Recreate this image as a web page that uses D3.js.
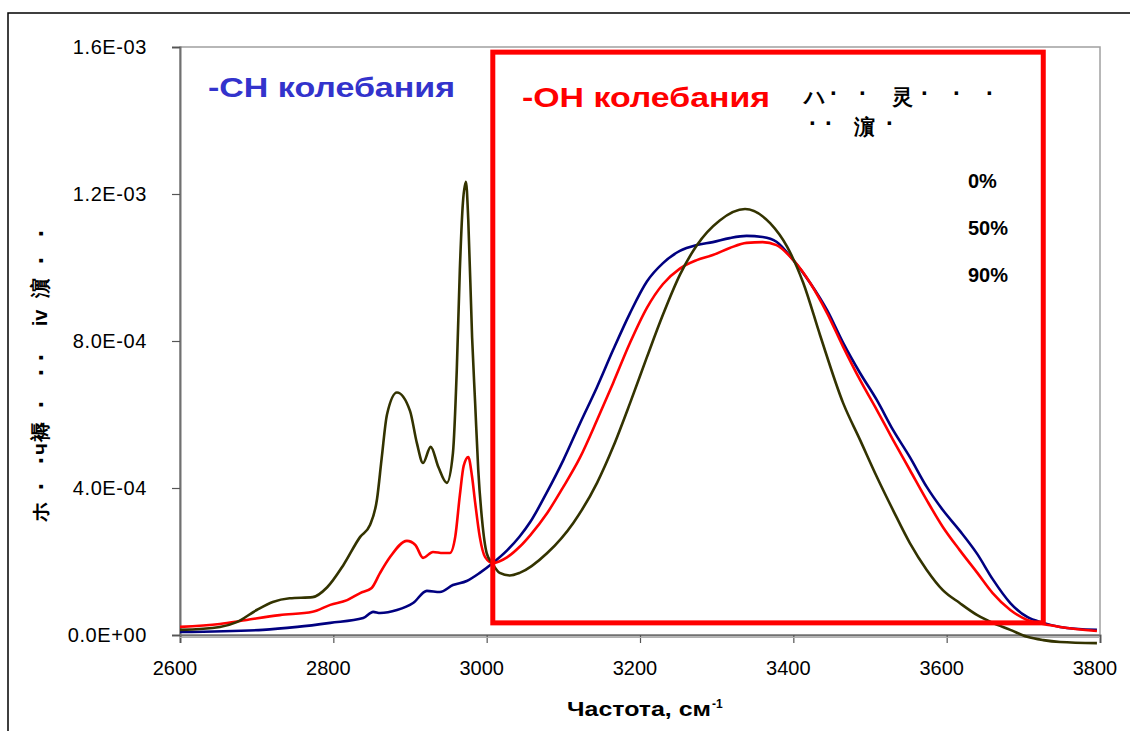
<!DOCTYPE html>
<html>
<head>
<meta charset="utf-8">
<script src="https://cdn.jsdelivr.net/npm/d3@7"></script>
<style>
  body { margin: 0; background: #fff; }
  svg { display: block; font-family: Arial, "Liberation Sans", sans-serif; }
</style>
</head>
<body>
<div id="chart"></div>
<script>
// ---- data (absorbance vs wavenumber) ----
var seriesNames = ["0%", "50%", "90%"];
var seriesColors = ["#000080", "#ff0000", "#333300"];

var wn0 = [2600, 2708, 2753, 2796, 2839, 2852, 2861, 2883, 2904, 2922, 2939, 2956, 2974, 2991, 3008, 3027, 3043, 3057, 3079, 3100, 3122, 3144, 3165, 3187, 3209, 3230, 3252, 3274, 3295, 3317, 3339, 3360, 3378, 3400, 3422, 3444, 3465, 3487, 3509, 3530, 3552, 3574, 3595, 3617, 3640, 3660, 3683, 3705, 3726, 3748, 3796];
var abs0 = [0.08, 0.14, 0.22, 0.33, 0.46, 0.63, 0.60, 0.68, 0.87, 1.20, 1.17, 1.36, 1.47, 1.69, 1.96, 2.31, 2.68, 3.08, 3.90, 4.76, 5.77, 6.75, 7.76, 8.76, 9.62, 10.12, 10.45, 10.61, 10.69, 10.80, 10.86, 10.83, 10.70, 10.20, 9.58, 8.84, 7.95, 7.13, 6.39, 5.58, 4.84, 4.03, 3.40, 2.84, 2.20, 1.52, 0.87, 0.49, 0.33, 0.22, 0.14];

var wn50 = [2600, 2652, 2687, 2730, 2773, 2796, 2818, 2835, 2850, 2861, 2874, 2896, 2907, 2917, 2930, 2943, 2952, 2959, 2965, 2970, 2976, 2981, 2985, 2991, 2998, 3008, 3027, 3043, 3057, 3079, 3100, 3122, 3144, 3165, 3187, 3209, 3230, 3252, 3274, 3295, 3317, 3339, 3360, 3378, 3400, 3422, 3444, 3465, 3487, 3509, 3530, 3552, 3574, 3595, 3617, 3640, 3660, 3683, 3705, 3726, 3748, 3796];
var abs50 = [0.22, 0.30, 0.41, 0.54, 0.63, 0.82, 0.95, 1.14, 1.28, 1.69, 2.12, 2.56, 2.45, 2.10, 2.26, 2.23, 2.23, 2.67, 3.80, 4.60, 4.84, 4.30, 3.60, 2.67, 2.12, 1.96, 2.12, 2.40, 2.72, 3.32, 4.03, 4.84, 5.85, 6.86, 7.95, 8.90, 9.55, 9.97, 10.20, 10.34, 10.53, 10.67, 10.69, 10.61, 10.20, 9.58, 8.76, 7.84, 6.94, 6.12, 5.31, 4.49, 3.67, 2.94, 2.31, 1.69, 1.14, 0.68, 0.41, 0.30, 0.22, 0.11];

var wn90 = [2600, 2652, 2674, 2700, 2721, 2743, 2773, 2792, 2813, 2835, 2848, 2857, 2863, 2870, 2883, 2900, 2909, 2917, 2927, 2937, 2948, 2956, 2961, 2965, 2969, 2973, 2976, 2981, 2985, 2989, 2994, 3000, 3007, 3017, 3030, 3043, 3079, 3113, 3144, 3165, 3187, 3209, 3230, 3252, 3274, 3304, 3337, 3370, 3392, 3413, 3435, 3465, 3487, 3509, 3530, 3552, 3574, 3595, 3617, 3640, 3660, 3683, 3705, 3726, 3748, 3796];
var abs90 = [0.14, 0.22, 0.35, 0.68, 0.90, 1.00, 1.03, 1.30, 1.90, 2.67, 3.00, 3.70, 4.80, 6.00, 6.60, 6.10, 5.22, 4.68, 5.12, 4.57, 4.14, 4.95, 7.20, 9.93, 11.76, 12.33, 11.30, 8.10, 6.30, 4.50, 3.13, 2.23, 1.96, 1.69, 1.62, 1.69, 2.23, 3.05, 4.14, 5.12, 6.31, 7.56, 8.72, 9.80, 10.60, 11.28, 11.59, 11.20, 10.56, 9.58, 8.15, 6.31, 5.31, 4.30, 3.40, 2.50, 1.77, 1.22, 0.87, 0.54, 0.33, 0.14, -0.05, -0.14, -0.19, -0.22];

var absUnit = 1e-4; // abs arrays are in units of 1E-04

var xTicks = [2600, 2800, 3000, 3200, 3400, 3600, 3800];
var yTicks = [0, 4e-4, 8e-4, 1.2e-3, 1.6e-3];
var yTickLabels = ["0.0E+00", "4.0E-04", "8.0E-04", "1.2E-03", "1.6E-03"];

var xTitle = "Частота, см";
var xTitleSup = "-1";
// y title glyphs, read bottom to top
var yTitle = ["ホ", "·", "·", "ч", "褥", "·", "·", "·", "iv", "濵", "·", "·"];
var chTitle = "-CH колебания";
var ohTitle = "-OH колебания";
var legendTitle1 = ["ハ", "·", "·", "灵", "·", "·", "·"];
var legendTitle2 = ["·", "·", "濵", "·"];
// highlighted OH region (wavenumber / absorbance corners)
var ohBox = [3008, 3726, 3.3e-5, 1.586e-3];

// ---- layout ----
var width = 1130,
    height = 731;

var svg = d3.select("#chart").append("svg")
    .attr("width", width)
    .attr("height", height);

var x = d3.scaleLinear()
    .domain([2600, 3800])
    .range([180, 1100]);

var y = d3.scaleLinear()
    .domain([0, 1.6e-3])
    .range([635, 47]);

// outer chart border (runs off right/bottom)
svg.append("rect")
    .attr("x", 8).attr("y", 13)
    .attr("width", 1200).attr("height", 800)
    .style("fill", "none")
    .style("stroke", "#000")
    .style("stroke-width", "1.5px");

// plot frame
svg.append("rect")
    .attr("x", x(2600)).attr("y", y(1.6e-3))
    .attr("width", x(3800) - x(2600))
    .attr("height", y(0) - y(1.6e-3))
    .style("fill", "none")
    .style("stroke", "#a0a0a0")
    .style("stroke-width", "1.5px");

// axes
var xAxis = d3.axisBottom(x).tickValues(xTicks).tickSize(8).tickFormat("");
var yAxis = d3.axisLeft(y).tickValues(yTicks).tickSize(8).tickFormat("");

var gx = svg.append("g")
    .attr("transform", "translate(0," + y(0) + ")")
    .call(xAxis);
var gy = svg.append("g")
    .attr("transform", "translate(" + x(2600) + ",0)")
    .call(yAxis);

[gx, gy].forEach(function(g) {
  g.select(".domain").style("stroke", "#707070").style("stroke-width", "2px");
  g.selectAll(".tick line").style("stroke", "#555").style("stroke-width", "1.2px");
});

svg.append("line")
    .attr("x1", x(2600)).attr("x2", x(3800))
    .attr("y1", y(0) + 2.5).attr("y2", y(0) + 2.5)
    .style("stroke", "#b0b0b0")
    .style("stroke-width", "1px");

svg.selectAll(".xlab")
    .data(xTicks)
  .enter().append("text")
    .attr("class", "xlab")
    .attr("x", function(d) { return x(d) - 5; })
    .attr("y", 675)
    .style("text-anchor", "middle")
    .style("font-size", "20px")
    .style("fill", "#000")
    .text(function(d) { return d; });

svg.selectAll(".ylab")
    .data(yTicks)
  .enter().append("text")
    .attr("class", "ylab")
    .attr("x", 147)
    .attr("y", function(d) { return y(d) + 7; })
    .style("text-anchor", "end")
    .style("font-size", "20px")
    .style("letter-spacing", "0.6px")
    .style("fill", "#000")
    .text(function(d, i) { return yTickLabels[i]; });

// axis titles
svg.append("text")
    .attr("x", 567)
    .attr("y", 716)
    .attr("textLength", 144)
    .attr("lengthAdjust", "spacingAndGlyphs")
    .style("font-size", "20px")
    .style("font-weight", "bold")
    .text(xTitle);
svg.append("text")
    .attr("x", 712)
    .attr("y", 708)
    .style("font-size", "12px")
    .style("font-weight", "bold")
    .text(xTitleSup);

var yTitlePos = [512, 486, 460, 449, 432, 404, 372, 357, 318, 288, 260, 233];
svg.selectAll(".yt")
    .data(yTitle)
  .enter().append("text")
    .attr("class", "yt")
    .attr("transform", function(d, i) { return "translate(47," + yTitlePos[i] + ") rotate(-90)"; })
    .style("text-anchor", "middle")
    .style("font-size", function(d) { return d === "·" ? "26px" : "20px"; })
    .style("font-weight", "bold")
    .attr("dy", function(d) { return d === "·" ? "0.1em" : "0"; })
    .text(function(d) { return d; });

// series
var series = [
  {wn: wn0, v: abs0},
  {wn: wn50, v: abs50},
  {wn: wn90, v: abs90}
];

var line = d3.line()
    .x(function(d) { return x(d[0]); })
    .y(function(d) { return y(d[1] * absUnit); })
    .curve(d3.curveMonotoneX);

svg.selectAll(".series")
    .data(series)
  .enter().append("path")
    .attr("class", "series")
    .attr("d", function(s) { return line(s.wn.map(function(w, i) { return [w, s.v[i]]; })); })
    .style("fill", "none")
    .style("stroke", function(d, i) { return seriesColors[i]; })
    .style("stroke-width", "2.6px")
    .style("stroke-linejoin", "round");

// OH region box
svg.append("rect")
    .attr("x", x(ohBox[0]))
    .attr("y", y(ohBox[3]))
    .attr("width", x(ohBox[1]) - x(ohBox[0]))
    .attr("height", y(ohBox[2]) - y(ohBox[3]))
    .style("fill", "none")
    .style("stroke", "#ff0000")
    .style("stroke-width", "5px");

// annotations
svg.append("text")
    .attr("x", 208).attr("y", 97)
    .attr("textLength", 247)
    .attr("lengthAdjust", "spacingAndGlyphs")
    .style("font-size", "28px")
    .style("font-weight", "bold")
    .style("fill", "#3333cc")
    .text(chTitle);

svg.append("text")
    .attr("x", 522).attr("y", 107)
    .attr("textLength", 248)
    .attr("lengthAdjust", "spacingAndGlyphs")
    .style("font-size", "28px")
    .style("font-weight", "bold")
    .style("fill", "#ff0000")
    .text(ohTitle);

// legend title (garbled glyphs as in the source)
function dotText(sel) {
  sel.style("font-size", function(d) { return d === "·" ? "24px" : "21px"; })
     .style("font-weight", "bold")
     .style("text-anchor", "middle")
     .text(function(d) { return d; });
}

var l1x = [815, 834, 863, 902, 925, 957, 990];
svg.selectAll(".lt1")
    .data(legendTitle1)
  .enter().append("text")
    .attr("class", "lt1")
    .attr("x", function(d, i) { return l1x[i]; })
    .attr("y", function(d) { return d === "·" ? 101 : 104; })
    .call(dotText);

var l2x = [813, 829, 864, 890];
svg.selectAll(".lt2")
    .data(legendTitle2)
  .enter().append("text")
    .attr("class", "lt2")
    .attr("x", function(d, i) { return l2x[i]; })
    .attr("y", function(d) { return d === "·" ? 131 : 134; })
    .call(dotText);

svg.selectAll(".leg")
    .data(seriesNames)
  .enter().append("text")
    .attr("class", "leg")
    .attr("x", 968)
    .attr("y", function(d, i) { return 188 + i * 47; })
    .style("font-size", "20px")
    .style("font-weight", "bold")
    .text(function(d) { return d; });
</script>
</body>
</html>
